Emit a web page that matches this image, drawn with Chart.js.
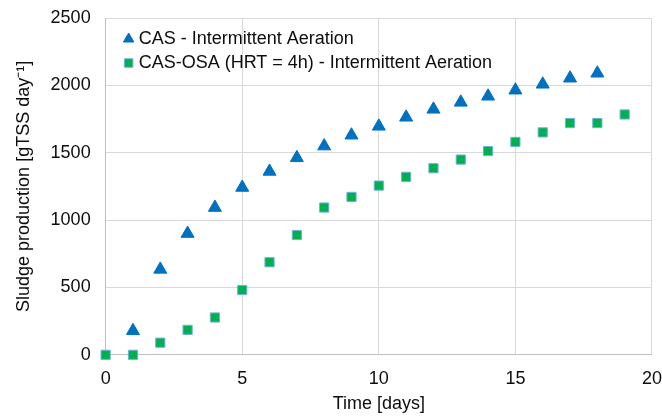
<!DOCTYPE html>
<html>
<head>
<meta charset="utf-8">
<script src="https://cdn.jsdelivr.net/npm/chart.js@4"></script>
<style>
  html, body { margin: 0; padding: 0; background: #fff; }
  #box { width: 662px; height: 417px; }
</style>
</head>
<body>
<div id="box"><canvas id="myChart"></canvas></div>
<script>
const days = [0, 1, 2, 3, 4, 5, 6, 7, 8, 9, 10, 11, 12, 13, 14, 15, 16, 17, 18, 19];
const casDays = [1, 2, 3, 4, 5, 6, 7, 8, 9, 10, 11, 12, 13, 14, 15, 16, 17, 18];
const casValues = [178, 634, 900, 1093, 1242, 1361, 1462, 1549, 1630, 1696, 1763, 1822, 1874, 1919, 1964, 2008, 2053, 2090];
const osaValues = [0, 0, 90, 185, 277, 481, 687, 889, 1093, 1172, 1256, 1321, 1385, 1449, 1512, 1580, 1651, 1720, 1720, 1784];
const xTicks = [0, 5, 10, 15, 20];
const yTicks = [0, 500, 1000, 1500, 2000, 2500];

const ctx = document.getElementById('myChart');
Chart.defaults.font.family = "'Liberation Sans', Arial, sans-serif";
Chart.defaults.font.size = 18;
Chart.defaults.color = '#0d0d0d';

function toPoints(xs, ys) {
    let arr = [];
    for (let i = 0; i < xs.length; i++) {
        arr.push({ x: xs[i], y: ys[i] });
    }
    return arr;
}

// nudge the legend a bit inside the plot area, like the original
const legendShift = {
    id: 'legendShift',
    afterLayout(chart) {
        if (chart.legend) {
            chart.legend.left += 16;
            chart.legend.top += 24;
        }
    }
};

var myChart = new Chart(ctx, {
    type: 'scatter',
    data: {
        datasets: [{
            label: 'CAS - Intermittent Aeration',
            data: toPoints(casDays, casValues),
            pointStyle: 'triangle',
            pointRadius: 7.5,
            backgroundColor: '#0070c0',
            borderColor: '#0070c0',
            borderWidth: 1,
            clip: false
        }, {
            label: 'CAS-OSA (HRT = 4h) - Intermittent Aeration',
            data: toPoints(days, osaValues),
            pointStyle: 'rect',
            pointRadius: 6.5,
            backgroundColor: '#00b050',
            borderColor: '#6fb3d9',
            borderWidth: 1,
            clip: false
        }]
    },
    options: {
        responsive: true,
        maintainAspectRatio: false,
        animation: false,
        layout: { autoPadding: false, padding: { top: 18, right: 10, left: 9, bottom: 2 } },
        plugins: {
            legend: {
                position: 'chartArea',
                align: 'start',
                labels: {
                    usePointStyle: true,
                    boxWidth: 2,
                    boxHeight: 8.5,
                    padding: 6,
                    color: '#0d0d0d',
                    font: { size: 18 }
                }
            },
            tooltip: { enabled: false }
        },
        scales: {
            x: {
                type: 'linear',
                min: 0,
                max: 20,
                afterBuildTicks: (axis) => { axis.ticks = xTicks.map(v => ({ value: v })); },
                grid: { color: '#d9d9d9', tickLength: 13, tickColor: 'rgba(0,0,0,0)' },
                border: { color: '#bfbfbf' },
                ticks: { padding: 0, callback: (v) => String(v) },
                title: { display: true, text: 'Time [days]', padding: { top: 4, bottom: 0 } }
            },
            y: {
                min: 0,
                max: 2500,
                afterBuildTicks: (axis) => { axis.ticks = yTicks.map(v => ({ value: v })); },
                grid: { color: '#d9d9d9', tickLength: 15, tickColor: 'rgba(0,0,0,0)' },
                border: { color: '#bfbfbf' },
                ticks: { padding: 0, callback: (v) => String(v) },
                title: { display: true, text: 'Sludge production [gTSS day\u207B\u00B9]', padding: { top: 4, bottom: 16 } }
            }
        }
    },
    plugins: [legendShift]
});
</script>
</body>
</html>
